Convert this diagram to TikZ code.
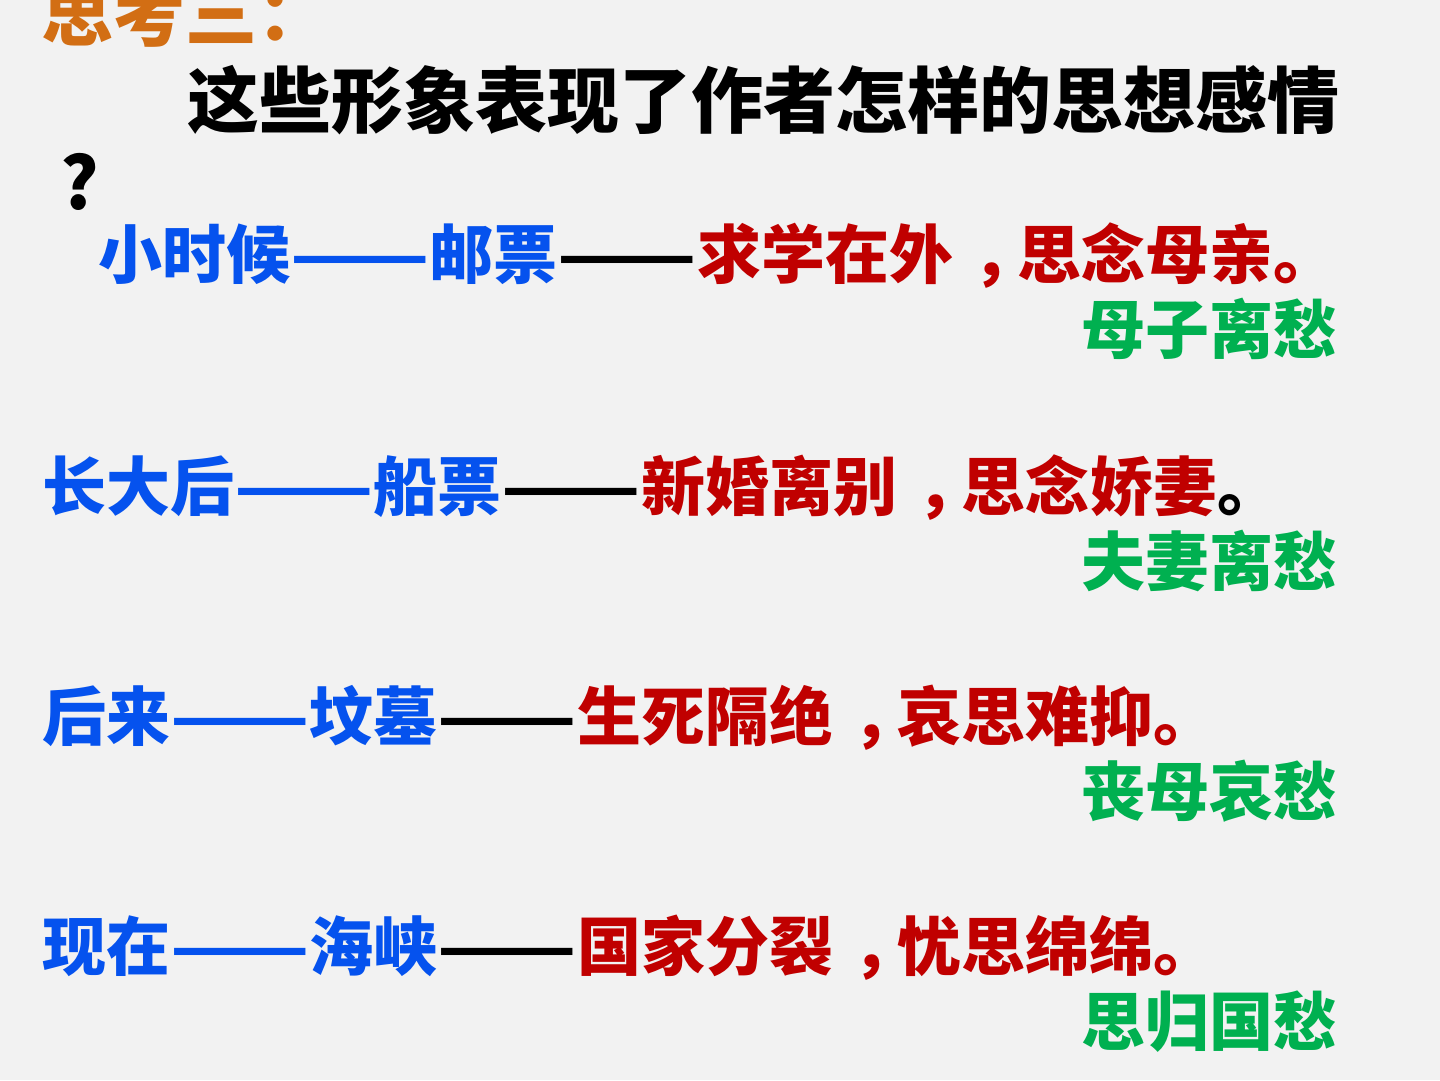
\documentclass[tikz,border=0pt]{standalone}
\usepackage{fontspec}
\setmainfont{Noto Sans CJK SC}
\definecolor{bg}{HTML}{F2F2F2}
\definecolor{cblue}{HTML}{0552EE}
\definecolor{cred}{HTML}{C00000}
\definecolor{cgreen}{HTML}{00B050}
\definecolor{corange}{HTML}{D26E14}
\newcommand\myemdd{\scalebox{1.27}[1]{——}}
\newcommand\mycomma{\makebox[1em][l]{\hspace{0.3em}，}}
\begin{document}
\begin{tikzpicture}[x=1pt,y=-1pt,
  txt/.style={inner sep=0pt,anchor=base west,font=\fontsize{64}{64}\selectfont\bfseries},
  ttl/.style={inner sep=0pt,anchor=base west,font=\fontsize{72}{72}\selectfont\bfseries},
  tag/.style={inner sep=0pt,anchor=base east,text=cgreen,font=\fontsize{64}{64}\selectfont\bfseries}]
\fill[bg] (0,0) rectangle (1440,1080);
\useasboundingbox (0,0) rectangle (1440,1080);
\node[ttl,text=corange] (q) at (41,40) {思考三：};
\node[ttl] (t) at (187,127) {这些形象表现了作者怎样的思想感情};
\node[ttl] (qm) at (60,209) {?};
\node[txt] (r1) at (98,278) {\textcolor{cblue}{小时候\myemdd 邮票}\myemdd\textcolor{cred}{求学在外\mycomma 思念母亲。}};
\node[tag] (g1) at (1338,353) {母子离愁};
\node[txt] (r2) at (42,510) {\textcolor{cblue}{长大后\myemdd 船票}\myemdd\textcolor{cred}{新婚离别\mycomma 思念娇妻}。};
\node[tag] (g2) at (1338,585) {夫妻离愁};
\node[txt] (r3) at (42,740) {\textcolor{cblue}{后来\myemdd 坟墓}\myemdd\textcolor{cred}{生死隔绝\mycomma 哀思难抑。}};
\node[tag] (g3) at (1338,815) {丧母哀愁};
\node[txt] (r4) at (42,970) {\textcolor{cblue}{现在\myemdd 海峡}\myemdd\textcolor{cred}{国家分裂\mycomma 忧思绵绵。}};
\node[tag] (g4) at (1338,1045) {思归国愁};
\end{tikzpicture}
\end{document}
